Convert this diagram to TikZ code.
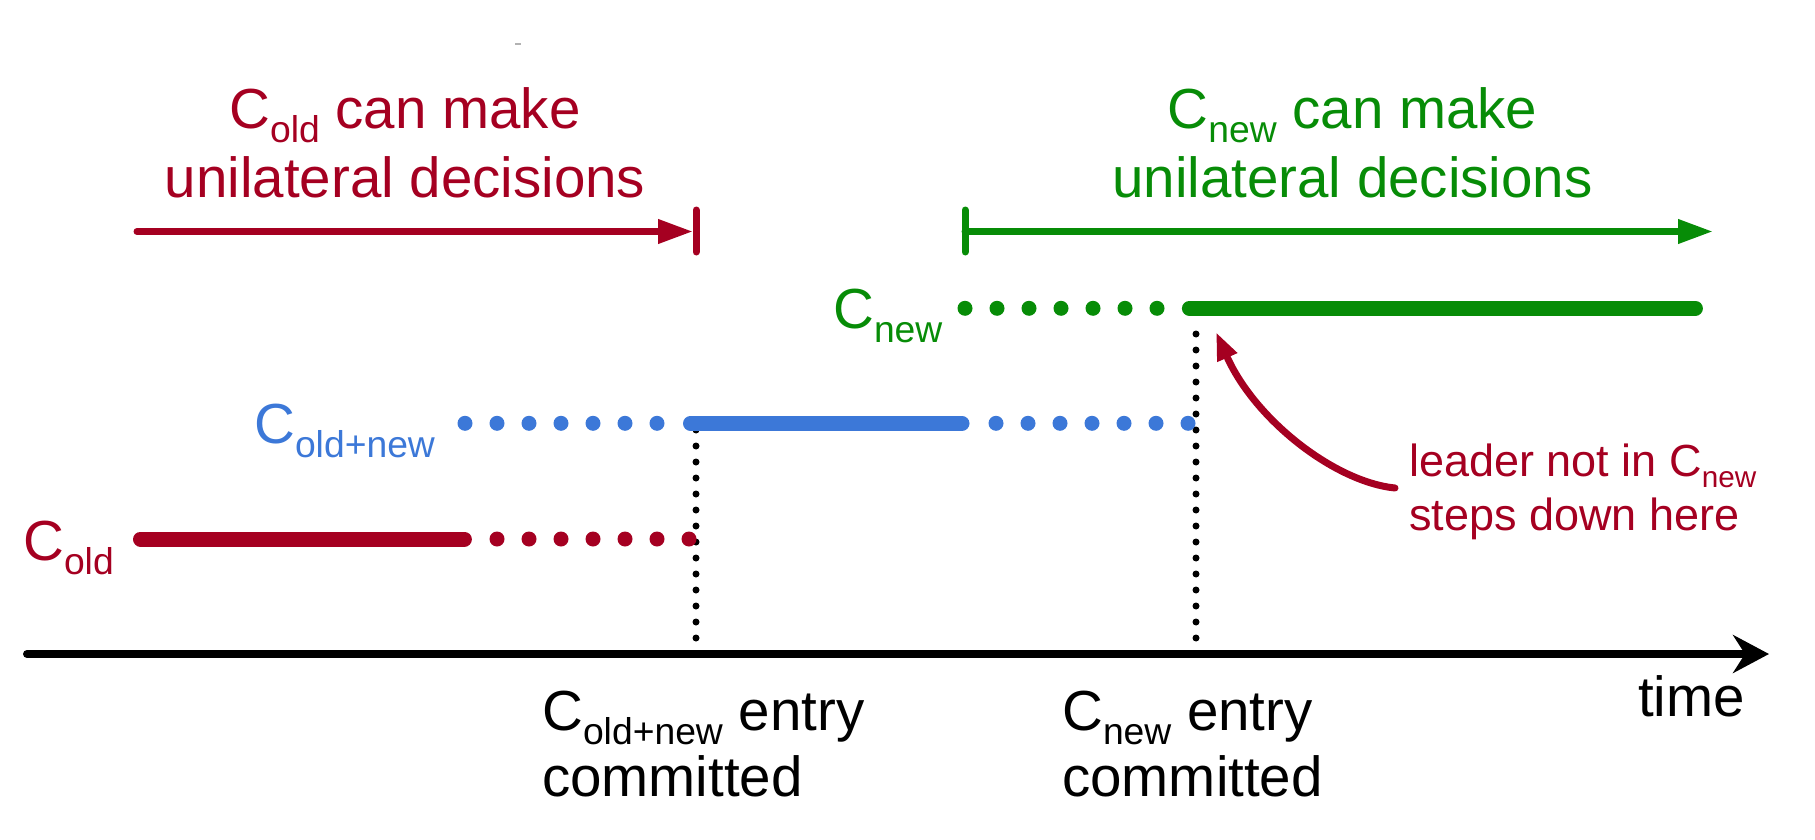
\documentclass[tikz,border=0pt]{standalone}
\usepackage{fontspec}
\setmainfont{Liberation Sans}
\usepackage{graphicx}
\usetikzlibrary{arrows.meta}
\definecolor{cred}{HTML}{A50021}
\definecolor{cblue}{HTML}{3C78D8}
\definecolor{cgreen}{HTML}{078C07}
\newcommand\lo[1]{\raisebox{-0.25em}{\scalebox{0.66}{#1}}}
\begin{document}
\begin{tikzpicture}[x=1pt,y=-1pt,
  big/.style={font=\fontsize{56.5}{68}\selectfont, inner sep=0pt, anchor=base west},
  bigc/.style={font=\fontsize{56.5}{68}\selectfont, inner sep=0pt, anchor=base},
  note/.style={font=\fontsize{45}{54}\selectfont, inner sep=0pt, anchor=base west, text=cred},
  thickline/.style={line width=15pt, line cap=round},
  dotline/.style={line width=15pt, line cap=round, dash pattern=on 0pt off 32pt},
  vdots/.style={line width=7pt, line cap=round, dash pattern=on 0pt off 16pt, black},
  rangearrow/.style={line width=7pt, line cap=round, -{Triangle[length=35pt,width=23pt]}},
  rangebar/.style={line width=7pt, line cap=round}]
\useasboundingbox (0,0) rectangle (1815,840);

% stray mark
\draw[gray!60, line width=2pt] (515,44) -- (521,44);

% titles
\node[bigc, text=cred] (toldA) at (405,128.5) {C\lo{old} can make};
\node[bigc, text=cred] (toldB) at (405,197) {unilateral decisions};
\node[bigc, text=cgreen] (tnewA) at (1352.5,128.5) {C\lo{new} can make};
\node[bigc, text=cgreen] (tnewB) at (1352.5,197) {unilateral decisions};

% range arrows
\coordinate (ra) at (137,231.5);
\coordinate (rb) at (693,231.5);
\draw[cred, rangearrow] (ra) -- (rb);
\draw[cred, rangebar] (696,210) -- (696,252);
\coordinate (ga) at (965,231.5);
\coordinate (gb) at (1713,231.5);
\draw[cgreen, rangearrow] (ga) -- (gb);
\draw[cgreen, rangebar] (965,210) -- (965,252);

% configuration labels
\node[big, text=cred] (lold) at (23,560) {C\lo{old}};
\node[big, text=cblue] (lon) at (254,443.3) {C\lo{old+new}};
\node[big, text=cgreen] (lnew) at (833,328.3) {C\lo{new}};

% vertical dotted markers
\coordinate (c1top) at (696,423.3);
\coordinate (c1bot) at (696,654);
\coordinate (c2top) at (1196,318);
\coordinate (c2bot) at (1196,654);
\draw[vdots] (c1bot) -- (c1top);
\draw[vdots] (c2bot) -- (c2top);

% C_old
\draw[cred, thickline] (140.5,539) -- (464.4,539);
\draw[cred, dotline] (497,539) -- (690,539);
% C_old+new
\draw[cblue, dotline] (465,423.3) -- (659,423.3);
\draw[cblue, thickline] (690.5,423.3) -- (962,423.3);
\draw[cblue, dotline] (996,423.3) -- (1189,423.3);
% C_new
\draw[cgreen, dotline] (965,308.3) -- (1158,308.3);
\draw[cgreen, thickline] (1189.4,308.3) -- (1695.4,308.3);

% time axis
\coordinate (ax0) at (27,654);
\coordinate (ax1) at (1769,654);
\draw[black, line width=8pt, line cap=round, -{Stealth[length=36pt,width=38pt,inset=12pt]}] (ax0) -- (ax1);
\node[big] (time) at (1638,716.7) {time};

% event labels
\node[big] (e1a) at (542,730) {C\lo{old+new} entry};
\node[big] (e1b) at (542,796.7) {committed};
\node[big] (e2a) at (1062,730) {C\lo{new} entry};
\node[big] (e2b) at (1062,796.7) {committed};

% annotation
\node[note] (n1) at (1409,476.7) {leader not in C\lo{new}};
\node[note] (n2) at (1409,530) {steps down here};
\coordinate (tail) at (1395,488);
\coordinate (tip) at (1216,332);
\draw[cred, line width=7pt, line cap=round, -{Triangle[length=28pt,width=20pt]}] (tail) .. controls (1335,482) and (1255,420) .. (tip);
\end{tikzpicture}
\end{document}
